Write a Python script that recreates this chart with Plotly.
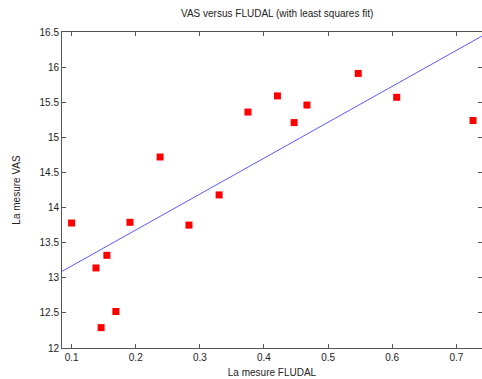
import numpy as np
import plotly.graph_objects as go

fludal = [0.100, 0.138, 0.146, 0.155, 0.169, 0.191, 0.238, 0.283, 0.330,
          0.375, 0.421, 0.447, 0.467, 0.547, 0.607, 0.726]
vas = [13.78, 13.14, 12.29, 13.32, 12.52, 13.79, 14.72, 13.75, 14.18,
       15.36, 15.59, 15.21, 15.46, 15.91, 15.57, 15.24]

x_range = [0.085, 0.74]
y_range = [12, 16.5]
x_ticks = [0.1, 0.2, 0.3, 0.4, 0.5, 0.6, 0.7]
y_ticks = [12, 12.5, 13, 13.5, 14, 14.5, 15, 15.5, 16, 16.5]
y_tick_text = ["12", "12.5", "13", "13.5", "14", "14.5", "15", "15.5", "16", "16.5"]

slope, intercept = np.polyfit(fludal, vas, 1)
fit_x = x_range
fit_y = [slope * v + intercept for v in fit_x]

font = "Liberation Sans, Arial, Helvetica, sans-serif"

fig = go.Figure()
fig.add_trace(go.Scatter(x=fit_x, y=fit_y, mode="lines",
                         line=dict(color="rgb(90,90,255)", width=1),
                         hoverinfo="skip", showlegend=False))
fig.add_trace(go.Scatter(x=fludal, y=vas, mode="markers",
                         marker=dict(symbol="square", size=7, color="#ff0000",
                                     line=dict(width=0)),
                         showlegend=False))

axis_common = dict(showgrid=False, zeroline=False, showline=True, mirror="ticks",
                   linecolor="#555", linewidth=1, ticks="inside", ticklen=4,
                   tickcolor="#555", tickfont=dict(family=font, size=10, color="#222"))

fig.update_layout(
    width=482, height=379,
    margin=dict(l=62, r=0, t=32, b=31),
    paper_bgcolor="white", plot_bgcolor="white",
    title=dict(text="VAS versus FLUDAL (with least squares fit)",
               x=0.575, xanchor="center", y=0.965, yanchor="middle",
               font=dict(family=font, size=10, color="#222")),
    xaxis=dict(range=x_range, tickvals=x_ticks, ticktext=[str(t) for t in x_ticks],
               title=dict(text="La mesure FLUDAL", standoff=6,
                          font=dict(family=font, size=10, color="#222")),
               **axis_common),
    yaxis=dict(range=y_range, tickvals=y_ticks, ticktext=y_tick_text,
               title=dict(text="La mesure VAS", standoff=17,
                          font=dict(family=font, size=10, color="#222")),
               **axis_common),
)

fig.write_html("out.html")
